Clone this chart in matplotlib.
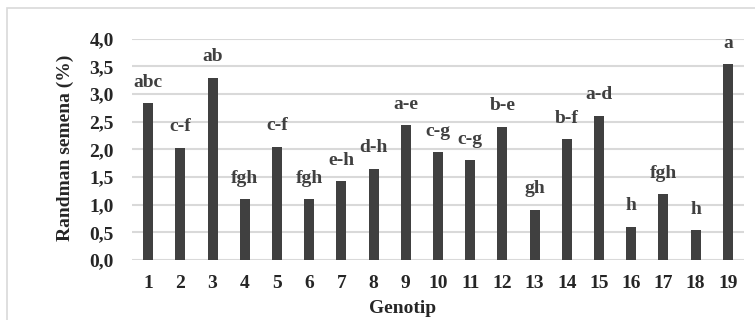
import matplotlib.pyplot as plt
from matplotlib.patches import Rectangle

genotip = [str(i) for i in range(1, 20)]
randman = [2.83, 2.03, 3.29, 1.10, 2.05, 1.10, 1.42, 1.65, 2.44, 1.95,
           1.80, 2.41, 0.91, 2.18, 2.61, 0.60, 1.19, 0.54, 3.54]
notasi = ['abc', 'c-f', 'ab', 'fgh', 'c-f', 'fgh', 'e-h', 'd-h', 'a-e', 'c-g',
          'c-g', 'b-e', 'gh', 'b-f', 'a-d', 'h', 'fgh', 'h', 'a']
yticks = [0.0, 0.5, 1.0, 1.5, 2.0, 2.5, 3.0, 3.5, 4.0]

plt.rcParams['font.family'] = 'Liberation Serif'
plt.rcParams['font.weight'] = 'bold'
fs = 14

fig = plt.figure(figsize=(7.55, 3.2), dpi=100)
# outer chart border (only left and top edges fall inside the image)
fig.patches.append(Rectangle((7 / 755, -5 / 320), 760 / 755, 317 / 320,
                             transform=fig.transFigure, fill=False,
                             edgecolor='#d9d9d9', linewidth=1.2))
ax = fig.add_axes([132 / 755, 60 / 320, 612 / 755, 221.3 / 320])

x = list(range(len(genotip)))
ax.bar(x, randman, width=0.31, color='#404040', zorder=3)

for xi, v, lab in zip(x, randman, notasi):
    ax.annotate(lab, (xi, v), textcoords='offset points', xytext=(0, 9),
                ha='center', va='bottom', fontsize=fs, fontweight='bold',
                color='#404040')

ax.set_xlim(-0.5, len(genotip) - 0.5)
ax.set_ylim(0, 4.0)
ax.set_yticks(yticks)
ax.set_yticklabels([f'{t:.1f}'.replace('.', ',') for t in yticks])
ax.set_xticks(x)
ax.set_xticklabels(genotip)
ax.grid(axis='y', color='#d9d9d9', linewidth=1.5, zorder=0)
for s in ax.spines.values():
    s.set_visible(False)
ax.tick_params(axis='both', length=0, labelsize=fs, colors='#262626')
ax.tick_params(axis='y', pad=13)
ax.tick_params(axis='x', pad=11)

fig.text(403 / 755, 1 - 313 / 320, 'Genotip', fontsize=fs, fontweight='bold',
         ha='center', va='baseline', color='#262626')
fig.text(65 / 755, 1 - 148 / 320, 'Randman semena (%)', fontsize=fs, fontweight='bold',
         ha='center', va='center', rotation=90, color='#262626')

fig.savefig('out.png', dpi=100)
